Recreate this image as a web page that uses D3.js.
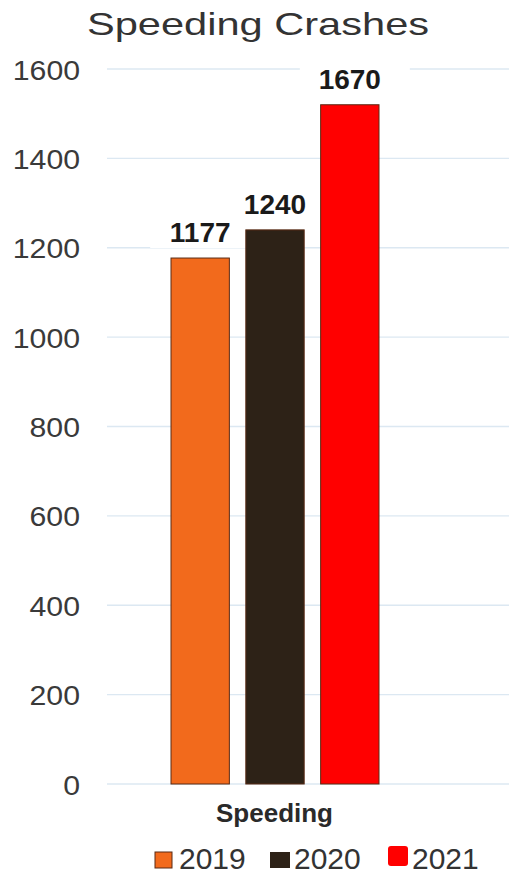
<!DOCTYPE html>
<html><head><meta charset="utf-8">
<script src="https://cdn.jsdelivr.net/npm/d3@7"></script>
<style>body{margin:0;background:#fff;}svg{display:block;}</style>
</head><body>
<script>
const categories = ["Speeding"];
const seriesNames = ["2019", "2020", "2021"];
const barValues = [1177, 1240, 1520];      // heights as drawn in the picture
const barLabels = ["1177", "1240", "1670"]; // labels as printed
const seriesColors = ["#F26A1C", "#2D2217", "#FF0000"];
const yTicks = [0, 200, 400, 600, 800, 1000, 1200, 1400, 1600];

const W = 509, H = 874;
const svg = d3.select("body").append("svg").attr("width", W).attr("height", H);
const font = "Liberation Sans, Arial, sans-serif";

const y = d3.scaleLinear().domain([0, 1600]).range([784, 69]);
const x0 = d3.scaleBand().domain(categories).range([107, 442]);
const x1 = d3.scaleBand().domain(seriesNames).range([171, 379]).paddingInner(0.22);

// gridlines
svg.append("g").selectAll("line").data(yTicks).join("line")
  .attr("x1", 107).attr("x2", W).attr("y1", d => y(d)).attr("y2", d => y(d))
  .attr("stroke", "#dce8f2").attr("stroke-width", 1.3);

// y axis labels
const yAxis = d3.axisLeft(y).tickValues(yTicks).tickFormat(d3.format("d")).tickSize(0).tickPadding(0);
const ga = svg.append("g").attr("transform", "translate(80,0)").call(yAxis);
ga.select(".domain").remove();
ga.selectAll("text").attr("font-family", font).attr("font-size", 28).attr("fill", "#3a3a3a")
  .attr("dy", "0.36em").attr("transform", "scale(1.08,1)");

// title
svg.append("g").attr("transform", "translate(258,35) scale(1.3,1)")
  .append("text").attr("text-anchor", "middle")
  .attr("font-family", font).attr("font-size", 32).attr("fill", "#333")
  .text("Speeding Crashes");

const data = seriesNames.map((s, i) => ({ s, v: barValues[i], label: barLabels[i], c: seriesColors[i] }));

// label backgrounds (under bars)
svg.append("g").selectAll("rect").data(data).join("rect")
  .attr("x", d => x1(d.s) + x1.bandwidth() / 2 - 50).attr("width", 110)
  .attr("y", d => y(d.v) - 42).attr("height", 32).attr("fill", "#fff");

// bars
svg.append("g").selectAll("rect").data(data).join("rect")
  .attr("x", d => x1(d.s)).attr("width", x1.bandwidth())
  .attr("y", d => y(d.v)).attr("height", d => y(0) - y(d.v))
  .attr("fill", d => d.c).attr("stroke", "#5a2a14").attr("stroke-width", 1);

// value labels
svg.append("g").selectAll("text").data(data).join("text")
  .attr("x", d => x1(d.s) + x1.bandwidth() / 2).attr("y", d => y(d.v) - 16)
  .attr("text-anchor", "middle").attr("font-family", font).attr("font-weight", "bold")
  .attr("font-size", 28).attr("fill", "#1a1a1a").text(d => d.label);

// category label
svg.append("g").attr("transform", `translate(${x0("Speeding") + x0.bandwidth() / 2},822) scale(1.04,1)`)
  .append("text").attr("text-anchor", "middle").attr("font-family", font).attr("font-weight", "bold")
  .attr("font-size", 25).attr("fill", "#2a2a2a").text(categories[0]);

// legend
const legX = [155, 270, 388];
const legY = [852, 852, 846];
const legS = [17, 20, 20];
const leg = svg.append("g").selectAll("g").data(data).join("g")
  .attr("transform", (d, i) => `translate(${legX[i]},0)`);
leg.append("rect").attr("x", 0).attr("y", (d, i) => legY[i])
  .attr("width", (d, i) => legS[i]).attr("height", (d, i) => i === 2 ? 20 : 16)
  .attr("rx", (d, i) => i === 2 ? 3 : 0)
  .attr("fill", d => d.c).attr("stroke", (d, i) => i === 0 ? "#5a2a14" : "none");
leg.append("text").attr("x", 24).attr("y", 869).attr("font-family", font)
  .attr("font-size", 30).attr("fill", "#333").text(d => d.s);
</script>
</body></html>
